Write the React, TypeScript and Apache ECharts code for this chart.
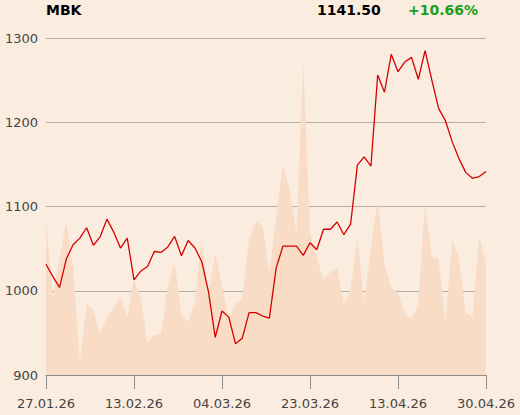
import React, { useEffect, useRef } from "react";
import * as echarts from "echarts";

const ticker = "MBK";

const dates: string[] = [
  "27.01.26", "28.01.26", "29.01.26", "30.01.26",
  "02.02.26", "03.02.26", "04.02.26", "05.02.26", "06.02.26", "09.02.26", "10.02.26", "11.02.26", "12.02.26", "13.02.26",
  "16.02.26", "17.02.26", "18.02.26", "19.02.26", "20.02.26", "23.02.26", "24.02.26", "25.02.26", "26.02.26", "27.02.26",
  "02.03.26", "03.03.26", "04.03.26", "05.03.26", "06.03.26", "09.03.26", "10.03.26", "11.03.26", "12.03.26", "13.03.26",
  "16.03.26", "17.03.26", "18.03.26", "19.03.26", "20.03.26", "23.03.26", "24.03.26", "25.03.26", "26.03.26", "27.03.26",
  "30.03.26", "31.03.26", "01.04.26", "02.04.26", "07.04.26", "08.04.26", "09.04.26", "10.04.26", "13.04.26", "14.04.26",
  "15.04.26", "16.04.26", "17.04.26", "20.04.26", "21.04.26", "22.04.26", "23.04.26", "24.04.26", "27.04.26", "28.04.26",
  "29.04.26", "30.04.26",
];

const prices: number[] = [
  1031.5, 1017, 1004, 1037.6, 1054.6, 1062.5, 1074.8, 1054, 1064, 1085,
  1069.7, 1050.7, 1062.5, 1013, 1023.4, 1028.8, 1046.6, 1045.5, 1052, 1064.5,
  1041.5, 1059.7, 1050.7, 1034.8, 999, 944.7, 976, 968.7, 937, 943.7,
  974, 974, 970, 967.6, 1027, 1053, 1053, 1053, 1042, 1057,
  1048.7, 1073, 1073, 1081.6, 1066.5, 1079, 1149, 1159, 1148, 1256,
  1235.6, 1280.6, 1260, 1271.5, 1277, 1251, 1285, 1250, 1216.5, 1202,
  1177, 1157, 1140.5, 1133.4, 1135.5, 1141.5,
];

const volumes: number[] = [
  1.53, 0.78, 1.17, 1.54, 1.08, 0.13, 0.71, 0.65, 0.41, 0.58,
  0.67, 0.78, 0.58, 0.95, 0.77, 0.32, 0.40, 0.41, 0.88, 1.13,
  0.60, 0.53, 0.72, 1.36, 0.82, 1.22, 0.88, 0.57, 0.72, 0.77,
  1.36, 1.54, 1.49, 1.03, 1.57, 2.11, 1.85, 1.42, 3.12, 1.42,
  1.18, 0.95, 1.03, 1.08, 0.70, 0.85, 1.38, 0.72, 1.28, 1.74,
  1.12, 0.87, 0.82, 0.62, 0.56, 0.72, 1.72, 1.18, 1.16, 0.51,
  1.35, 1.17, 0.62, 0.58, 1.39, 1.12,
];

const yTicks = { min: 900, max: 1300, interval: 100 };

export default function App() {
  const ref = useRef<HTMLDivElement>(null);

  useEffect(() => {
    if (!ref.current) return;
    const chart = echarts.init(ref.current, undefined, { renderer: "svg" });
    const first = prices[0];
    const last = prices[prices.length - 1];
    const change = (last / first - 1) * 100;
    const changeText = (change >= 0 ? "+" : "") + change.toFixed(2) + "%";
    const font = "DejaVu Sans";

    chart.setOption({
      animation: false,
      backgroundColor: "#fbece0",
      textStyle: { fontFamily: font },
      grid: {
        left: 46,
        right: 34,
        top: 38,
        bottom: 40,
        containLabel: false,
        outerBoundsMode: "none",
      },
      graphic: [
        {
          type: "text",
          left: 46,
          top: 3,
          style: { text: ticker, fontFamily: font, fontSize: 14, fontWeight: "bold", fill: "#000" },
        },
        {
          type: "text",
          left: 317,
          top: 3,
          style: { text: last.toFixed(2), fontFamily: font, fontSize: 14, fontWeight: "bold", fill: "#000" },
        },
        {
          type: "text",
          left: 408,
          top: 3,
          style: { text: changeText, fontFamily: font, fontSize: 14, fontWeight: "bold", fill: "#1a9e1a" },
        },
      ],
      xAxis: {
        type: "category",
        data: dates,
        boundaryGap: false,
        axisLine: { show: true, lineStyle: { color: "#8c8c8c", width: 1 } },
        axisTick: { show: true, interval: 12, length: 14, lineStyle: { color: "#8c8c8c" } },
        axisLabel: {
          interval: 12,
          color: "#444",
          fontSize: 13,
          fontFamily: font,
          margin: 22,
          showMinLabel: true,
          showMaxLabel: true,
          alignMinLabel: "center",
          alignMaxLabel: "center",
          hideOverlap: false,
        },
        splitLine: { show: false },
      },
      yAxis: [
        {
          type: "value",
          min: yTicks.min,
          max: yTicks.max,
          interval: yTicks.interval,
          axisLine: { show: false },
          axisTick: { show: false },
          axisLabel: {
            color: "#444",
            fontSize: 13,
            fontFamily: font,
            margin: 8,
            formatter: (v: number) => String(v),
          },
          splitLine: { show: true, lineStyle: { color: "#b5b0aa", width: 1 } },
        },
        {
          type: "value",
          min: 0,
          max: 3.37,
          show: false,
          splitLine: { show: false },
        },
      ],
      series: [
        {
          type: "line",
          yAxisIndex: 1,
          data: volumes,
          showSymbol: false,
          symbol: "none",
          lineStyle: { width: 0 },
          areaStyle: { color: "#f8dcc6", opacity: 1 },
          z: 1,
          silent: true,
        },
        {
          type: "line",
          yAxisIndex: 0,
          data: prices,
          showSymbol: false,
          symbol: "none",
          lineStyle: { color: "#d40000", width: 1.3 },
          z: 3,
          silent: true,
        },
      ],
    });

    return () => chart.dispose();
  }, []);

  return (
    <div
      ref={ref}
      style={{ position: "fixed", left: 0, top: 0, width: 520, height: 415 }}
    />
  );
}
